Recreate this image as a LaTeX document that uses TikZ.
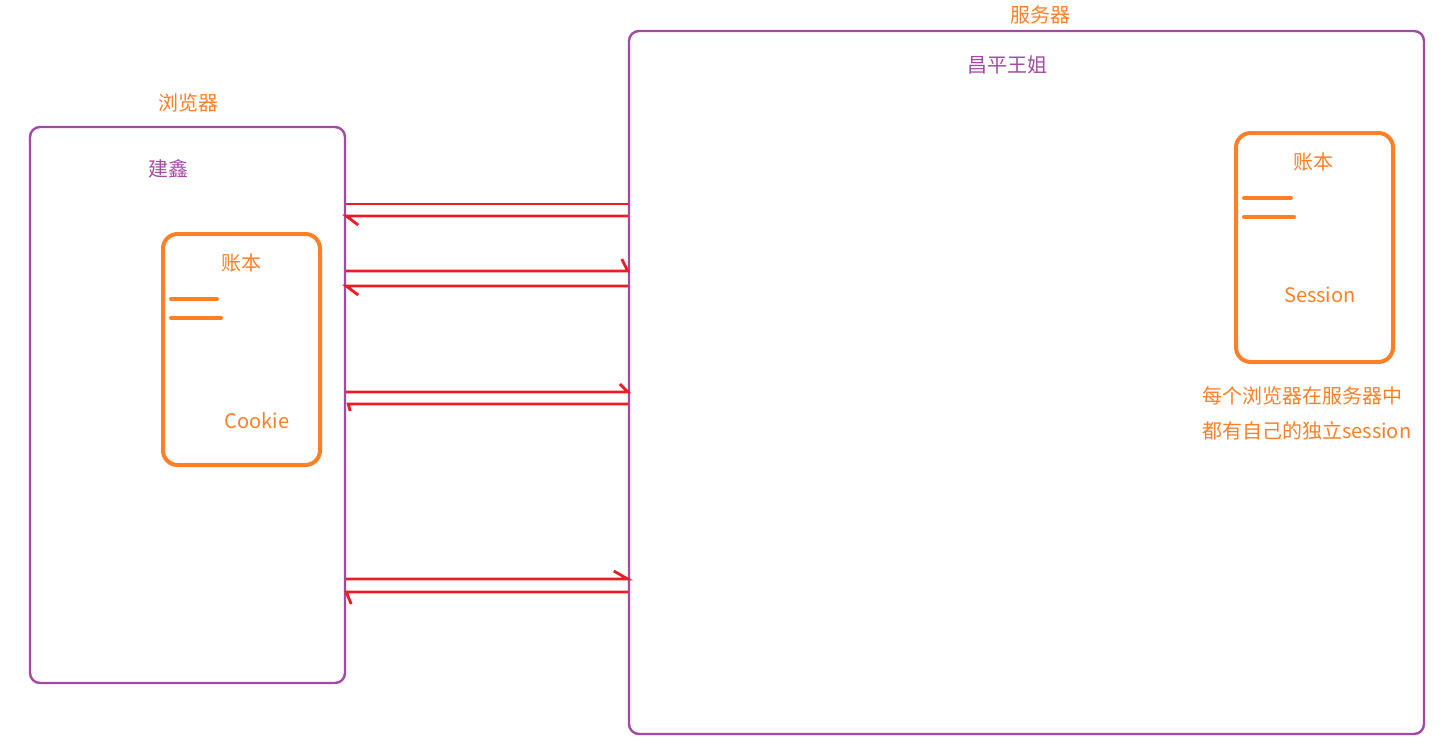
\documentclass[tikz,border=0pt]{standalone}
\usepackage{fontspec}
\setmainfont{Noto Sans CJK SC}
\definecolor{pur}{HTML}{A349A4}
\definecolor{org}{HTML}{FF7F27}
\definecolor{rd}{HTML}{ED1C24}
\begin{document}
\begin{tikzpicture}[x=0.75pt,y=-0.75pt,
  pbox/.style={draw=pur,line width=1.8pt,rounded corners=7.5pt,inner sep=0pt},
  obox/.style={draw=org,line width=3pt,rounded corners=11pt,inner sep=0pt},
  otext/.style={text=org,font=\fontsize{15pt}{18pt}\selectfont,inner sep=0pt},
  ptext/.style={text=pur,font=\fontsize{15pt}{18pt}\selectfont,inner sep=0pt},
  bar/.style={draw=org,line width=3pt,line cap=round},
  msg/.style={draw=rd,line width=2.1pt}]
\useasboundingbox (0,0) rectangle (1441,742);
% boxes
\node[pbox,minimum width=236.25pt,minimum height=417pt] (browser) at (187.5,405) {};
\node[obox,minimum width=117.75pt,minimum height=173.25pt] (cookie) at (241.5,349.5) {};
\node[pbox,minimum width=596.25pt,minimum height=527.25pt] (server) at (1026.5,382.5) {};
\node[obox,minimum width=117.75pt,minimum height=171.75pt] (session) at (1314.5,247.5) {};
% labels
\node[otext] (lbrowser) at (188,103) {浏览器};
\node[ptext] (lname) at (168,169) {建鑫};
\node[otext] (lcbook) at (241,263) {账本};
\node[otext] (lcookie) at (257,421) {Cookie};
\node[otext] (lserver) at (1040,15) {服务器};
\node[ptext] (lsname) at (1007,65) {昌平王姐};
\node[otext] (lsbook) at (1313,162) {账本};
\node[otext] (lsession) at (1320,295) {Session};
\node[otext,anchor=west] (note1) at (1202,396) {每个浏览器在服务器中};
\node[otext,anchor=west] (note2) at (1202,431) {都有自己的独立session};
% ledger bars
\coordinate (c1a) at (171,299); \coordinate (c1b) at (217,299);
\coordinate (c2a) at (171,318); \coordinate (c2b) at (221,318);
\draw[bar] (c1a) -- (c1b);
\draw[bar] (c2a) -- (c2b);
\coordinate (s1a) at (1244,198); \coordinate (s1b) at (1291,198);
\coordinate (s2a) at (1244,217); \coordinate (s2b) at (1294,217);
\draw[bar] (s1a) -- (s1b);
\draw[bar] (s2a) -- (s2b);
% messages
\draw[msg] (browser.east |- 0,204) -- (server.west |- 0,204);
\draw[msg] (server.west |- 0,216) -- (browser.east |- 0,216) -- ++(12,9);
\draw[msg] (browser.east |- 0,271) -- (server.west |- 0,271) -- ++(-6,-12);
\draw[msg] (server.west |- 0,286) -- (browser.east |- 0,286) -- ++(12,9);
\draw[msg] (browser.east |- 0,392) -- (server.west |- 0,392) -- ++(-8,-8);
\draw[msg] (server.west |- 0,404) -- ([xshift=1.5pt]browser.east |- 0,404) -- ++(2,7);
\draw[msg] (browser.east |- 0,579) -- (server.west |- 0,579) -- ++(-14,-8);
\draw[msg] (server.west |- 0,592) -- (browser.east |- 0,592) -- ++(5,12);
\end{tikzpicture}
\end{document}
